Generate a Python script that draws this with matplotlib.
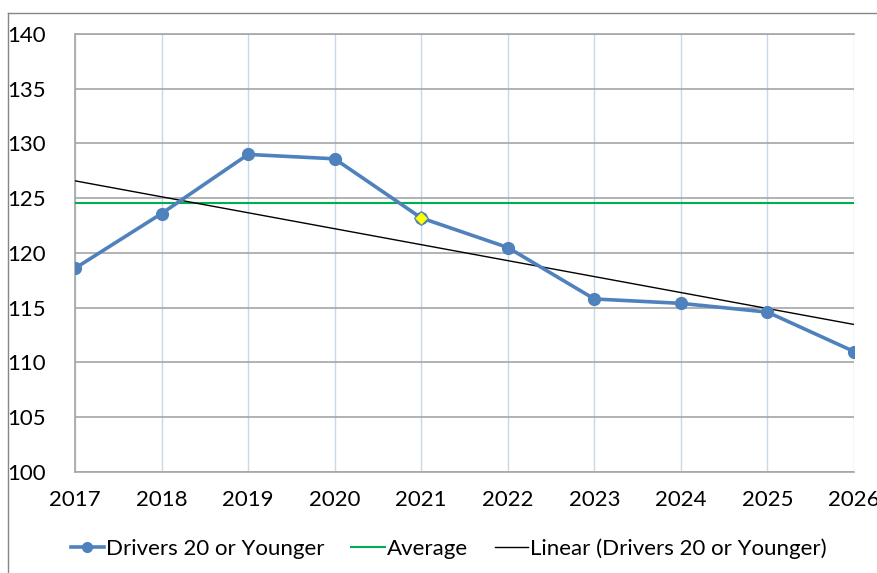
import numpy as np
import matplotlib.pyplot as plt
from matplotlib.lines import Line2D

years = [2017, 2018, 2019, 2020, 2021, 2022, 2023, 2024, 2025, 2026]
drivers = [118.6, 123.6, 129.0, 128.6, 123.2, 120.5, 115.8, 115.4, 114.6, 111.0]
highlight_year = 2021
avg_years = 5  # average is taken over the first five (observed) years

avg = np.mean(drivers[:avg_years])
coef = np.polyfit(years, drivers, 1)
trend = np.polyval(coef, years)

plt.rcParams['font.family'] = ['Lato', 'DejaVu Sans']

fig = plt.figure(figsize=(8.78, 5.73), dpi=100)
ax = fig.add_axes([0.0854, 0.1763, 0.8873, 0.7644])

blue = '#4F81BD'
ax.plot(years, drivers, color=blue, lw=2.6, marker='o', ms=8.5, zorder=4)
i = years.index(highlight_year)
ax.plot(years[i], drivers[i], marker='D', ms=7, mfc='#FFFF00', mec=blue, mew=0.8, zorder=5)
ax.axhline(avg, color='#00B050', lw=1.5, zorder=3)
ax.plot(years, trend, color='black', lw=1.0, zorder=3)

ax.set_xlim(2017, 2026)
ax.set_ylim(100, 140)
ax.set_xticks(years)
ax.set_yticks(range(100, 141, 5))
ax.tick_params(length=0, labelsize=16)
ax.tick_params(axis='y', pad=21)
ax.tick_params(axis='x', pad=13)

ax.yaxis.grid(True, color='#A6A6A6', lw=1.2)
ax.xaxis.grid(True, color='#C9D7EA', lw=1.0)
ax.set_axisbelow(True)
for s in ['left', 'bottom', 'top']:
    ax.spines[s].set_color('#A6A6A6')
    ax.spines[s].set_linewidth(1.2)
ax.spines['right'].set_visible(False)

handles = [
    Line2D([], [], color=blue, lw=2.6, marker='o', ms=7),
    Line2D([], [], color='#00B050', lw=1.5),
    Line2D([], [], color='black', lw=1.0),
]
labels = ['Drivers 20 or Younger', 'Average', 'Linear (Drivers 20 or Younger)']
fig.legend(handles, labels, loc='center', bbox_to_anchor=(0.511, 0.042), ncol=3,
           frameon=False, fontsize=16, handlelength=1.5, handletextpad=0.1,
           columnspacing=1.2)

# outer chart border
fig.add_artist(Line2D([0.0091, 0.0091], [0, 0.9773], color='#868686', lw=1.0))
fig.add_artist(Line2D([0.0091, 1], [0.9773, 0.9773], color='#868686', lw=1.0))

fig.savefig('out.png', dpi=100)
